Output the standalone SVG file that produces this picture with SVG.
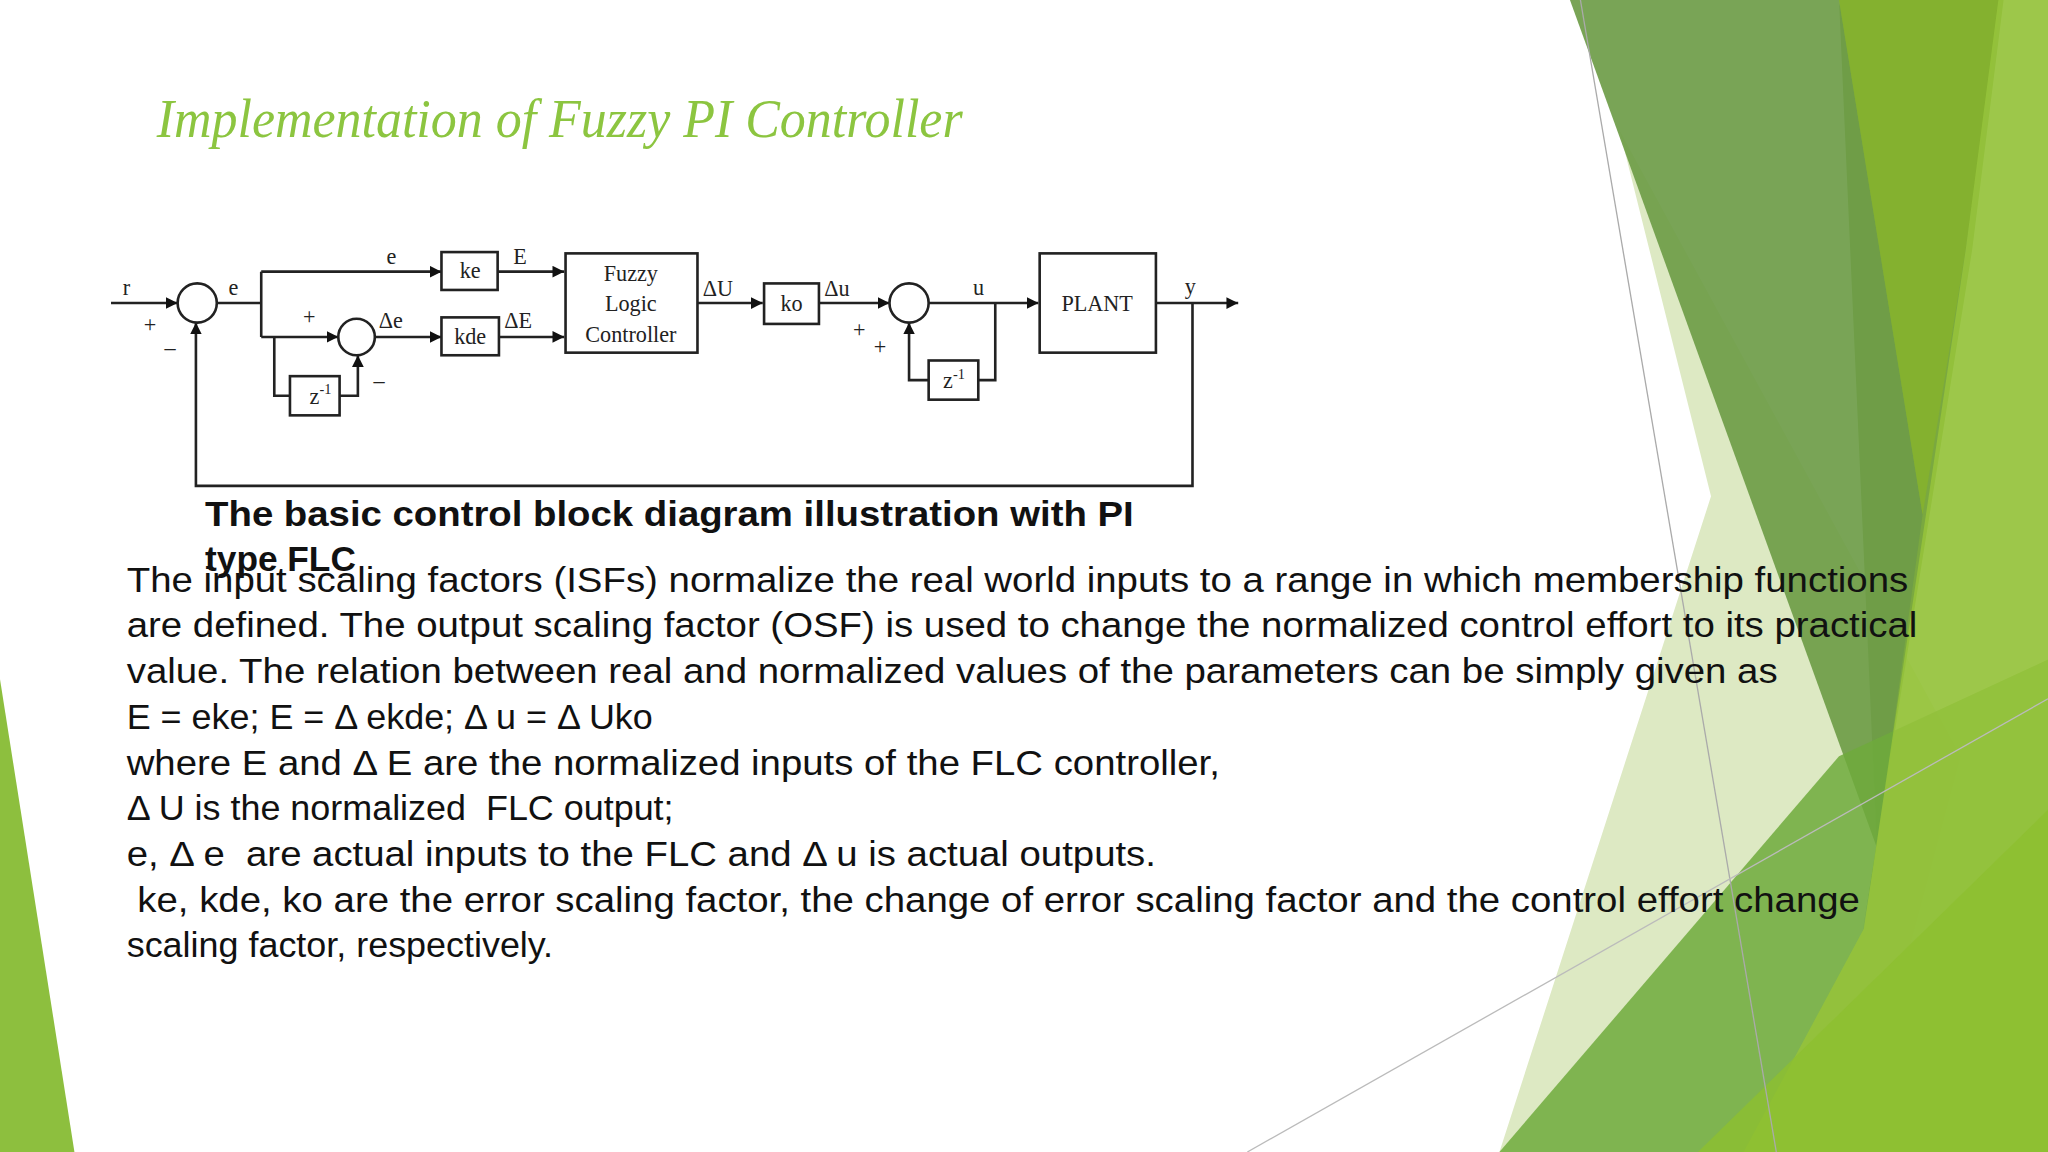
<svg xmlns="http://www.w3.org/2000/svg" width="2048" height="1152" viewBox="0 0 2048 1152">
<defs>
<marker id="ah" viewBox="0 0 10 10" refX="10" refY="5" markerWidth="9" markerHeight="9" markerUnits="userSpaceOnUse" orient="auto"><path d="M0,0 L10,5 L0,10 z" fill="#111"/></marker>
<style>
.ln{fill:none;stroke:#222;stroke-width:2}
.ar{fill:none;stroke:#222;stroke-width:2;marker-end:url(#ah)}
.bx{fill:#fff;stroke:#222;stroke-width:2}
.lb{font-family:"Liberation Serif",serif;font-size:17px;fill:#222}
.bd{font-family:"Liberation Sans",Arial,sans-serif;font-size:27.5px;fill:#111}
.cap{font-family:"Liberation Sans",Arial,sans-serif;font-size:27px;font-weight:bold;fill:#111}
</style>
</defs>
<rect width="2048" height="1152" fill="#fff"/>
<g transform="scale(1.30612)">
<g id="background">
<polygon points="1240,100 1310,380 1148,882 1420,882 1501,579" fill="#dde9c3"/>
<polygon points="1408,0 1534,0 1510,191 1425,720 1437,649" fill="#7aa840"/>
<polygon points="1202,0 1408,0 1472,394 1437,649" fill="#6e9c48" opacity="0.92"/>
<polygon points="1408,0 1532,0 1505,191 1472,394" fill="#84b12f"/>
<polygon points="1148,882 1408,579 1568,505 1568,882" fill="#6faa3c" opacity="0.85"/>
<polygon points="1530,0 1568,0 1568,882 1335,882 1427,711 1505,191" fill="#95c23b" opacity="0.92"/>
<polygon points="1300,882 1568,620 1568,882" fill="#8dbf30" opacity="0.8"/>
<polygon points="0,520 57,882 0,882" fill="#8dbf3e"/>
<line x1="1210" y1="0" x2="1360" y2="882" stroke="#aaa" stroke-width="1"/>
<line x1="955" y1="882" x2="1568" y2="535" stroke="#bbb" stroke-width="1"/>
</g>
<text id="title" x="120" y="105" font-family="Liberation Serif,serif" font-style="italic" font-size="42" fill="#8cc540" textLength="617" lengthAdjust="spacingAndGlyphs">Implementation of Fuzzy PI Controller</text>
<g id="connectors">
<line class="ar" x1="85" y1="232" x2="136" y2="232"/>
<polyline class="ln" points="166,232 200,232"/>
<polyline class="ln" points="200,258 200,208"/>
<line class="ar" x1="200" y1="208" x2="338" y2="208"/>
<line class="ar" x1="200" y1="258" x2="259" y2="258"/>
<polyline class="ln" points="210,258 210,303 222,303"/>
<polyline class="ar" points="260,303 274,303 274,272"/>
<line class="ar" x1="287" y1="258" x2="338" y2="258"/>
<line class="ar" x1="381" y1="208" x2="432" y2="208"/>
<line class="ar" x1="382" y1="258" x2="432" y2="258"/>
<line class="ar" x1="534" y1="232" x2="584" y2="232"/>
<line class="ar" x1="627" y1="232" x2="681" y2="232"/>
<line class="ar" x1="711" y1="232" x2="795" y2="232"/>
<polyline class="ln" points="762,232 762,291 749,291"/>
<polyline class="ar" points="711,291 696,291 696,247"/>
<line class="ar" x1="885" y1="232" x2="948" y2="232"/>
<polyline class="ar" points="913,232 913,372 150,372 150,247"/>
</g>
<g id="sum1"><circle class="bx" cx="151" cy="232" r="15"/></g>
<g id="sum2"><circle class="bx" cx="273" cy="258" r="14"/></g>
<g id="sum3"><circle class="bx" cx="696" cy="232" r="15"/></g>
<g id="ke"><rect class="bx" x="338" y="193" width="43" height="29"/><text class="lb" x="360" y="213" text-anchor="middle">ke</text></g>
<g id="kde"><rect class="bx" x="338" y="243" width="44" height="29"/><text class="lb" x="360" y="263" text-anchor="middle">kde</text></g>
<g id="z1"><rect class="bx" x="222" y="288" width="38" height="30"/><text class="lb" x="237" y="309">z<tspan font-size="11" dy="-7">-1</tspan></text></g>
<g id="flc"><rect class="bx" x="433" y="194" width="101" height="76"/><text class="lb" x="483" y="215" text-anchor="middle">Fuzzy</text><text class="lb" x="483" y="238" text-anchor="middle">Logic</text><text class="lb" x="483" y="262" text-anchor="middle">Controller</text></g>
<g id="ko"><rect class="bx" x="585" y="217" width="42" height="31"/><text class="lb" x="606" y="238" text-anchor="middle">ko</text></g>
<g id="z2"><rect class="bx" x="711" y="276" width="38" height="30"/><text class="lb" x="722" y="297">z<tspan font-size="11" dy="-7">-1</tspan></text></g>
<g id="plant"><rect class="bx" x="796" y="194" width="89" height="76"/><text class="lb" x="840" y="238" text-anchor="middle">PLANT</text></g>
<g id="labels" class="lb">
<text x="94" y="226">r</text><text x="110" y="254">+</text><text x="126" y="272">–</text>
<text x="175" y="226">e</text><text x="296" y="202">e</text><text x="393" y="202">E</text>
<text x="232" y="248">+</text><text x="286" y="297">–</text>
<text x="290" y="251">Δe</text><text x="386" y="251">ΔE</text>
<text x="538" y="227">ΔU</text><text x="631" y="227">Δu</text>
<text x="653" y="258">+</text><text x="669" y="271">+</text>
<text x="745" y="226">u</text><text x="907" y="225">y</text>
</g>
<text class="cap" x="157" y="403" textLength="711" lengthAdjust="spacingAndGlyphs">The basic control block diagram illustration with PI</text>
<text class="cap" x="157" y="437">type FLC</text>
<g id="body" class="bd">
<text x="97" y="453" textLength="1364" lengthAdjust="spacingAndGlyphs">The input scaling factors (ISFs) normalize the real world inputs to a range in which membership functions</text>
<text x="97" y="488" textLength="1371" lengthAdjust="spacingAndGlyphs">are defined. The output scaling factor (OSF) is used to change the normalized control effort to its practical</text>
<text x="97" y="523" textLength="1264" lengthAdjust="spacingAndGlyphs">value. The relation between real and normalized values of the parameters can be simply given as</text>
<text x="97" y="558">E = eke; E = Δ ekde; Δ u = Δ Uko</text>
<text x="97" y="593" textLength="837" lengthAdjust="spacingAndGlyphs">where E and Δ E are the normalized inputs of the FLC controller,</text>
<text x="97" y="628" xml:space="preserve">Δ U is the normalized  FLC output;</text>
<text x="97" y="663" textLength="788" lengthAdjust="spacingAndGlyphs" xml:space="preserve">e, Δ e  are actual inputs to the FLC and Δ u is actual outputs.</text>
<text x="97" y="698" textLength="1327" lengthAdjust="spacingAndGlyphs" xml:space="preserve"> ke, kde, ko are the error scaling factor, the change of error scaling factor and the control effort change</text>
<text x="97" y="733">scaling factor, respectively.</text>
</g>
</g>
</svg>
